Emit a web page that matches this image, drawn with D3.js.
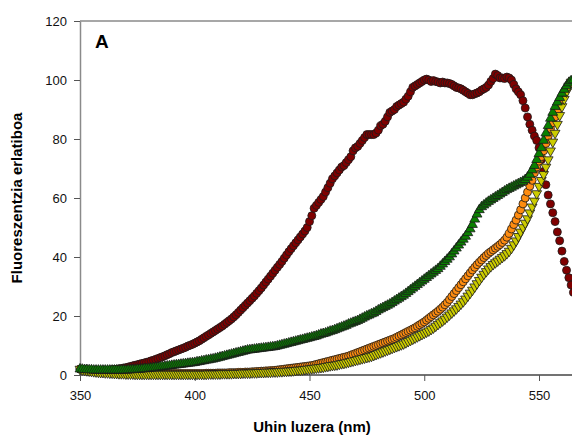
<!DOCTYPE html>
<html>
<head>
<meta charset="utf-8">
<script src="https://cdn.jsdelivr.net/npm/d3@7"></script>
<style>
  body { margin: 0; background: #fff; }
  svg { display: block; font-family: "Liberation Sans", Arial, sans-serif; }
</style>
</head>
<body>
<div id="chart"></div>
<script>
// wavelength (nm), one reading per nm
const wavelength = d3.range(350, 566);

const red = [
  2.0,1.9,1.8,1.7,1.6,1.5,1.5,1.5,1.5,1.5,
  1.5,1.6,1.6,1.7,1.8,1.9,2.0,2.1,2.2,2.4,
  2.5,2.7,2.9,3.1,3.3,3.5,3.7,3.9,4.1,4.3,
  4.5,4.8,5.0,5.3,5.6,5.9,6.2,6.5,6.9,7.2,
  7.6,7.9,8.2,8.5,8.8,9.1,9.4,9.8,10.1,10.4,
  10.8,11.2,11.6,12.1,12.6,13.1,13.6,14.1,14.6,15.1,
  15.6,16.1,16.6,17.2,17.8,18.4,19.0,19.7,20.4,21.2,
  22.0,22.8,23.6,24.4,25.2,26.0,26.8,27.7,28.6,29.5,
  30.5,31.5,32.5,33.5,34.5,35.5,36.5,37.5,38.5,39.6,
  40.7,41.8,42.8,43.8,44.8,45.8,46.8,47.8,48.8,50.0,
  52.0,54.0,56.5,57.5,58.5,59.5,60.5,62.0,63.5,65.0,
  66.5,67.5,68.5,69.5,70.5,71.0,72.0,73.0,74.0,76.0,
  77.0,77.5,78.5,79.5,80.5,81.5,81.5,81.5,81.5,82.0,
  83.0,84.5,85.0,86.0,87.5,89.0,89.5,90.0,91.0,91.5,
  92.0,92.5,93.5,94.5,96.0,97.5,98.0,98.5,99.0,99.5,
  100.0,100.3,100.0,99.5,99.8,99.5,99.3,99.0,99.3,99.0,
  99.0,98.8,98.5,98.0,97.5,97.3,97.0,96.5,96.0,95.5,
  95.0,95.0,95.3,95.6,96.0,96.6,97.0,97.5,98.3,99.5,
  100.5,102.0,101.5,100.7,100.7,100.5,101.0,100.7,100.0,98.5,
  97.0,96.0,95.0,93.0,90.5,87.5,85.0,83.0,81.0,79.5,
  77.0,73.0,69.0,64.5,61.0,58.0,55.0,52.0,48.5,45.5,
  42.0,38.5,35.5,33.0,30.5,28.0
];

const green = [
  2.0,1.9,1.8,1.8,1.7,1.7,1.6,1.6,1.6,1.6,
  1.6,1.6,1.6,1.6,1.6,1.6,1.6,1.6,1.6,1.6,
  1.6,1.7,1.7,1.8,1.8,1.9,1.9,2.0,2.1,2.1,
  2.2,2.3,2.4,2.5,2.6,2.7,2.8,2.9,3.0,3.1,
  3.2,3.3,3.4,3.5,3.6,3.7,3.8,3.9,4.0,4.1,
  4.2,4.4,4.5,4.7,4.8,5.0,5.1,5.3,5.4,5.6,
  5.8,6.0,6.2,6.4,6.6,6.8,7.0,7.2,7.4,7.6,
  7.8,8.0,8.2,8.4,8.5,8.6,8.7,8.8,8.9,9.0,
  9.1,9.2,9.3,9.4,9.5,9.6,9.8,10.0,10.2,10.4,
  10.6,10.8,11.0,11.2,11.4,11.6,11.8,12.0,12.2,12.4,
  12.6,12.8,13.0,13.2,13.5,13.8,14.0,14.2,14.5,14.8,
  15.0,15.3,15.6,15.9,16.2,16.5,16.8,17.2,17.5,17.8,
  18.1,18.4,18.8,19.2,19.6,20.0,20.3,20.7,21.0,21.5,
  22.0,22.4,22.8,23.2,23.6,24.0,24.5,25.0,25.5,26.0,
  26.5,27.0,27.6,28.2,28.8,29.4,30.0,30.6,31.2,31.8,
  32.4,33.0,33.6,34.2,34.8,35.4,36.0,36.8,37.6,38.4,
  39.2,40.0,41.0,42.0,43.0,44.0,45.0,46.0,47.0,48.2,
  49.5,51.0,52.8,54.5,56.0,57.0,57.6,58.2,58.8,59.3,
  59.8,60.3,60.8,61.3,61.8,62.3,62.8,63.2,63.6,64.0,
  64.4,64.8,65.2,65.6,66.2,67.0,68.0,69.5,71.0,73.0,
  75.0,77.0,79.5,82.0,84.5,87.0,89.0,91.0,92.5,94.0,
  95.5,96.8,98.0,99.0,99.7,100.0
];

const orange = [
  2.0,1.9,1.8,1.7,1.6,1.5,1.4,1.3,1.2,1.1,
  1.0,1.0,0.9,0.9,0.8,0.8,0.7,0.7,0.7,0.6,
  0.6,0.6,0.6,0.5,0.5,0.5,0.5,0.5,0.5,0.5,
  0.5,0.5,0.5,0.5,0.5,0.5,0.5,0.5,0.5,0.5,
  0.5,0.5,0.5,0.5,0.5,0.5,0.5,0.5,0.5,0.5,
  0.5,0.5,0.5,0.5,0.5,0.6,0.6,0.6,0.6,0.6,
  0.7,0.7,0.7,0.7,0.7,0.8,0.8,0.8,0.8,0.9,
  0.9,0.9,1.0,1.0,1.0,1.1,1.1,1.2,1.2,1.3,
  1.3,1.4,1.4,1.5,1.5,1.6,1.7,1.8,1.9,2.0,
  2.1,2.2,2.3,2.4,2.5,2.6,2.7,2.8,2.9,3.0,
  3.1,3.2,3.4,3.6,3.8,4.0,4.2,4.4,4.6,4.8,
  5.0,5.2,5.4,5.6,5.8,6.0,6.2,6.4,6.7,7.0,
  7.3,7.6,7.9,8.2,8.5,8.8,9.1,9.4,9.7,10.0,
  10.3,10.6,10.9,11.2,11.5,11.8,12.1,12.4,12.8,13.2,
  13.6,14.0,14.4,14.8,15.2,15.6,16.0,16.5,17.0,17.5,
  18.0,18.6,19.2,19.8,20.4,21.0,21.6,22.3,23.0,23.8,
  24.6,25.6,26.6,27.6,28.6,29.6,30.6,31.6,32.6,33.6,
  34.6,35.6,36.5,37.4,38.2,39.0,39.8,40.5,41.2,41.8,
  42.4,43.0,43.6,44.2,44.9,45.7,46.7,48.0,49.5,51.0,
  52.5,54.2,56.0,58.0,60.0,62.0,64.0,66.0,68.5,70.5,
  72.5,74.0,76.0,78.5,81.0,83.5,85.5,87.5,89.5,91.5,
  93.5,95.5,97.0,98.5,99.5,100.0
];

const yellow = [
  2.0,1.8,1.7,1.5,1.4,1.3,1.2,1.1,1.0,0.9,
  0.9,0.8,0.8,0.7,0.7,0.6,0.6,0.5,0.5,0.5,
  0.4,0.4,0.4,0.4,0.3,0.3,0.3,0.3,0.3,0.3,
  0.3,0.3,0.3,0.3,0.3,0.3,0.3,0.3,0.3,0.3,
  0.3,0.3,0.3,0.3,0.3,0.3,0.3,0.3,0.3,0.3,
  0.3,0.3,0.3,0.3,0.3,0.3,0.4,0.4,0.4,0.4,
  0.4,0.4,0.5,0.5,0.5,0.5,0.5,0.6,0.6,0.6,
  0.6,0.7,0.7,0.7,0.7,0.8,0.8,0.8,0.9,0.9,
  0.9,1.0,1.0,1.0,1.1,1.1,1.1,1.2,1.2,1.3,
  1.3,1.4,1.4,1.5,1.6,1.7,1.7,1.8,1.9,2.0,
  2.1,2.2,2.3,2.4,2.5,2.6,2.7,2.9,3.0,3.2,
  3.3,3.4,3.5,3.7,3.9,4.0,4.2,4.4,4.6,4.8,
  5.0,5.2,5.4,5.6,5.8,6.0,6.2,6.4,6.7,7.0,
  7.3,7.6,7.9,8.2,8.5,8.8,9.1,9.4,9.7,10.0,
  10.3,10.6,11.0,11.4,11.8,12.2,12.6,13.0,13.4,13.8,
  14.2,14.6,15.0,15.5,16.0,16.6,17.2,17.8,18.4,19.0,
  19.7,20.4,21.1,21.8,22.5,23.3,24.1,24.9,25.8,26.8,
  27.8,28.8,29.9,31.0,32.1,33.2,34.2,35.1,36.0,36.8,
  37.5,38.1,38.7,39.3,39.9,40.5,41.2,42.0,43.0,44.2,
  45.5,47.0,48.5,50.0,51.5,53.0,55.0,57.0,59.0,61.5,
  64.0,66.0,68.0,70.5,73.0,76.0,79.0,82.0,85.0,88.0,
  91.0,93.5,96.0,98.0,99.3,100.0
];

const xTicks = [350, 400, 450, 500, 550];
const yTicks = [0, 20, 40, 60, 80, 100, 120];

const width = 572;
const height = 437;

const x = d3.scaleLinear().domain([350, 550]).range([80, 539]);
const y = d3.scaleLinear().domain([0, 120]).range([375, 21]);

const svg = d3.select("#chart").append("svg")
  .attr("width", width)
  .attr("height", height);

// top frame line
svg.append("line")
  .attr("x1", 80).attr("x2", width)
  .attr("y1", y(120)).attr("y2", y(120))
  .attr("stroke", "#8a8a8a").attr("stroke-width", 1.5);

const yAxis = g => g
  .attr("transform", `translate(${x(350)},0)`)
  .call(d3.axisLeft(y).tickValues(yTicks).tickSize(6).tickPadding(7).tickSizeOuter(0))
  .call(g => g.select(".domain").attr("stroke", "#8a8a8a").attr("stroke-width", 1.5))
  .call(g => g.selectAll(".tick line").attr("stroke", "#555"))
  .call(g => g.selectAll(".tick text")
      .attr("font-size", 13)
      .attr("fill", "#111"));

const xAxis = g => g
  .attr("transform", `translate(0,${y(0)})`)
  .call(d3.axisBottom(x).tickValues(xTicks).tickSize(6).tickPadding(10).tickSizeOuter(0))
  .call(g => g.select(".domain").attr("d", `M${x(350)},0H${width}`)
      .attr("stroke", "#444").attr("stroke-width", 1.5))
  .call(g => g.selectAll(".tick line").attr("stroke", "#555"))
  .call(g => g.selectAll(".tick text")
      .attr("font-size", 13)
      .attr("fill", "#111"));

svg.append("g").call(yAxis);
svg.append("g").call(xAxis);

const series = [
  {name: "red", values: red, shape: "circle", fill: "#7f0000"},
  {name: "orange", values: orange, shape: "circle", fill: "#ff8c10"},
  {name: "yellow", values: yellow, shape: "down", fill: "#cccc00"},
  {name: "green", values: green, shape: "up", fill: "#0a8000"}
];

const tri = d3.symbol().type(d3.symbolTriangle).size(42)();

series.forEach(s => {
  const pts = wavelength.map((w, i) => ({w, v: s.values[i]}));
  const g = svg.append("g")
    .attr("fill", s.fill)
    .attr("stroke", "#1a1a1a")
    .attr("stroke-width", 0.8);
  if (s.shape === "circle") {
    g.selectAll("circle")
      .data(pts)
      .join("circle")
        .attr("cx", d => x(d.w))
        .attr("cy", d => y(d.v))
        .attr("r", 4);
  } else {
    g.selectAll("path")
      .data(pts)
      .join("path")
        .attr("d", tri)
        .attr("transform", d => `translate(${x(d.w)},${y(d.v)})` + (s.shape === "down" ? " rotate(180)" : ""));
  }
});

// panel letter
svg.append("text")
  .attr("x", 95).attr("y", 48)
  .attr("font-size", 19)
  .attr("font-weight", "bold")
  .text("A");

svg.append("text")
  .attr("x", 312).attr("y", 432)
  .attr("text-anchor", "middle")
  .attr("font-size", 15)
  .attr("font-weight", "bold")
  .text("Uhin luzera (nm)");

svg.append("text")
  .attr("transform", `translate(22,${198}) rotate(-90)`)
  .attr("text-anchor", "middle")
  .attr("font-size", 15)
  .attr("font-weight", "bold")
  .text("Fluoreszentzia erlatiboa");
</script>
</body>
</html>
